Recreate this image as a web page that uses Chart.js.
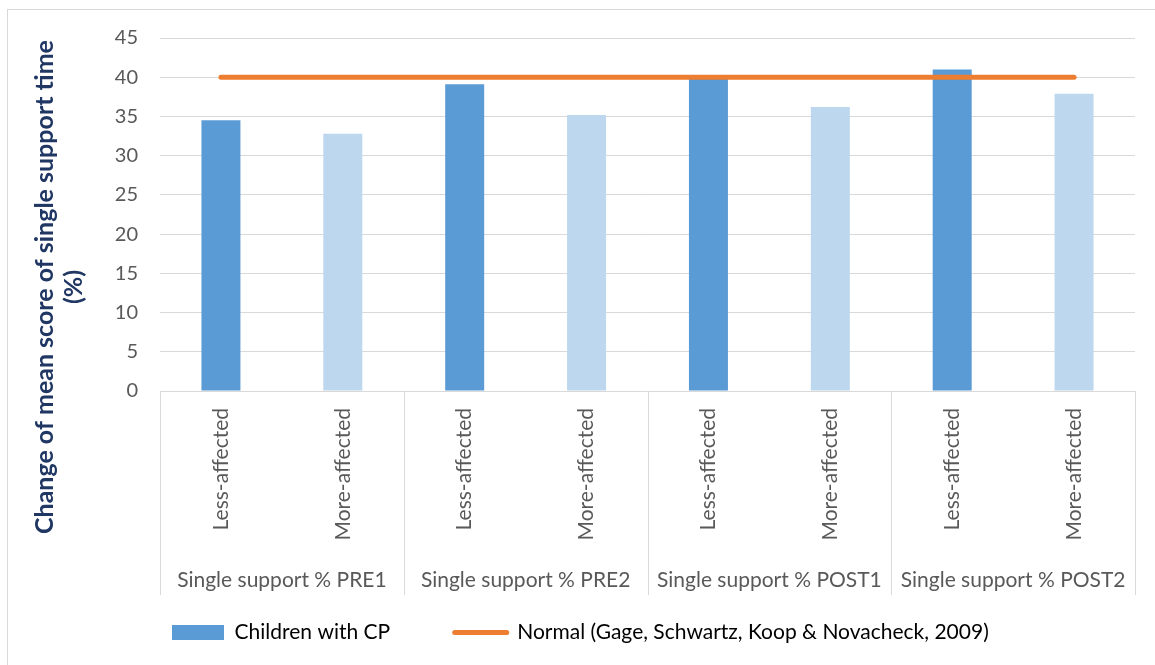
<!DOCTYPE html>
<html>
<head>
<meta charset="utf-8">
<script src="https://cdn.jsdelivr.net/npm/chart.js@4"></script>
<style>
  html, body { margin: 0; padding: 0; background: #ffffff; }
  #wrap { position: relative; width: 1155px; height: 665px; }
  canvas { display: block; }
</style>
</head>
<body>
<div id="wrap"><canvas id="c" width="1155" height="665"></canvas></div>
<script>
// Sub-categories (one bar each) and the session groups they belong to
const sides = ['Less-affected', 'More-affected', 'Less-affected', 'More-affected',
               'Less-affected', 'More-affected', 'Less-affected', 'More-affected'];
const sessions = ['Single support % PRE1', 'Single support % PRE2',
                  'Single support % POST1', 'Single support % POST2'];

// Mean single support time (%) for children with CP
const childrenCP = [34.5, 32.8, 39.1, 35.2, 40.0, 36.2, 41.0, 37.9];
// Normal reference value (Gage, Schwartz, Koop & Novacheck, 2009)
const normalRef = [40, 40, 40, 40, 40, 40, 40, 40];

const yTicks = [0, 5, 10, 15, 20, 25, 30, 35, 40, 45];

const seriesNames = ['Children with CP', 'Normal (Gage, Schwartz, Koop & Novacheck, 2009)'];
const yTitle = ['Change of mean score of single support time', '(%)'];

const FONT = "Lato, 'Open Sans', 'DejaVu Sans', sans-serif";
const GRID = '#D9D9D9';
const TEXT = '#595959';
const DARK_BLUE = '#5B9BD5';
const LIGHT_BLUE = '#BDD7EE';
const ORANGE = '#ED7D31';

// Light frame around the whole chart
const framePlugin = {
  id: 'frame',
  beforeDraw(chart) {
    const ctx = chart.ctx;
    ctx.save();
    ctx.fillStyle = '#ffffff';
    ctx.fillRect(0, 0, chart.width, chart.height);
    ctx.strokeStyle = GRID;
    ctx.lineWidth = 1;
    ctx.strokeRect(7.5, 9.5, chart.width + 20, chart.height + 20);
    ctx.restore();
  }
};

// Vertical separators between the session groups, spanning both label rows
const groupLinesPlugin = {
  id: 'groupLines',
  afterDraw(chart) {
    const x = chart.scales.x, x2 = chart.scales.x2;
    const ctx = chart.ctx;
    const n = x.ticks.length;
    const step = (x.right - x.left) / n;
    ctx.save();
    ctx.strokeStyle = GRID;
    ctx.lineWidth = 1;
    for (let i = 0; i <= n; i += 2) {
      const px = Math.round(x.left + i * step) + 0.5;
      ctx.beginPath();
      ctx.moveTo(px, chart.chartArea.bottom);
      ctx.lineTo(px, x2.top + 49);
      ctx.stroke();
    }
    ctx.restore();
  }
};

// Two-line rotated title for the value axis
const yTitlePlugin = {
  id: 'yTitle',
  afterDraw(chart) {
    const ctx = chart.ctx;
    ctx.save();
    ctx.translate(45, 287);
    ctx.rotate(-Math.PI / 2);
    ctx.fillStyle = '#203764';
    ctx.font = "bold 25px " + FONT;
    ctx.textAlign = 'center';
    ctx.textBaseline = 'middle';
    ctx.fillText(yTitle[0], 0, 0);
    ctx.fillText(yTitle[1], 0, 29);
    ctx.restore();
  }
};

new Chart(document.getElementById('c'), {
  data: {
    labels: sides,
    datasets: [
      {
        type: 'bar',
        label: seriesNames[0],
        data: childrenCP,
        backgroundColor: childrenCP.map((v, i) => i % 2 === 0 ? DARK_BLUE : LIGHT_BLUE),
        borderWidth: 0,
        categoryPercentage: 1,
        barPercentage: 0.32,
        order: 2
      },
      {
        type: 'line',
        label: seriesNames[1],
        data: normalRef,
        borderColor: ORANGE,
        backgroundColor: ORANGE,
        borderWidth: 5,
        borderCapStyle: 'round',
        pointRadius: 0,
        pointHoverRadius: 0,
        fill: false,
        tension: 0,
        order: 1
      }
    ]
  },
  options: {
    responsive: false,
    animation: false,
    devicePixelRatio: 1,
    layout: { padding: { left: 0, right: 20, top: 38, bottom: 12 } },
    scales: {
      x: {
        type: 'category',
        position: 'bottom',
        weight: 0,
        offset: true,
        grid: { display: false, drawTicks: false },
        border: { display: false },
        ticks: {
          color: TEXT,
          font: { family: FONT, size: 21 },
          minRotation: 90,
          maxRotation: 90,
          padding: 17,
          autoSkip: false
        },
        afterFit(s) { s.height = 155; }
      },
      x2: {
        type: 'category',
        position: 'bottom',
        weight: 1,
        labels: sessions,
        offset: true,
        grid: { display: false, drawTicks: false },
        border: { display: false },
        ticks: {
          color: TEXT,
          font: { family: FONT, size: 21 },
          maxRotation: 0,
          minRotation: 0,
          padding: 22,
          autoSkip: false
        },
        afterFit(s) { s.height = 64; }
      },
      y: {
        type: 'linear',
        min: 0,
        max: 45,
        afterBuildTicks(s) { s.ticks = yTicks.map(v => ({ value: v })); },
        grid: { color: GRID, lineWidth: 1, drawTicks: false },
        border: { display: false },
        ticks: {
          color: TEXT,
          font: { family: FONT, size: 20 },
          padding: 22
        },
        afterFit(s) { s.width = 160; }
      }
    },
    plugins: {
      legend: {
        position: 'bottom',
        align: 'start',
        fullSize: false,
        labels: {
          color: TEXT,
          font: { family: FONT, size: 21 },
          usePointStyle: true,
          pointStyleWidth: 52,
          boxHeight: 15,
          padding: 12,
          generateLabels(chart) {
            return [
              {
                text: seriesNames[0] + '\u2002\u2002\u2002\u2002\u2002',
                fillStyle: DARK_BLUE,
                strokeStyle: DARK_BLUE,
                lineWidth: 0,
                pointStyle: 'rect',
                datasetIndex: 0
              },
              {
                text: seriesNames[1],
                fillStyle: ORANGE,
                strokeStyle: ORANGE,
                lineWidth: 5,
                lineCap: 'round',
                pointStyle: 'line',
                datasetIndex: 1
              }
            ];
          }
        }
      },
      tooltip: { enabled: false }
    }
  },
  plugins: [framePlugin, groupLinesPlugin, yTitlePlugin]
});
</script>
</body>
</html>
